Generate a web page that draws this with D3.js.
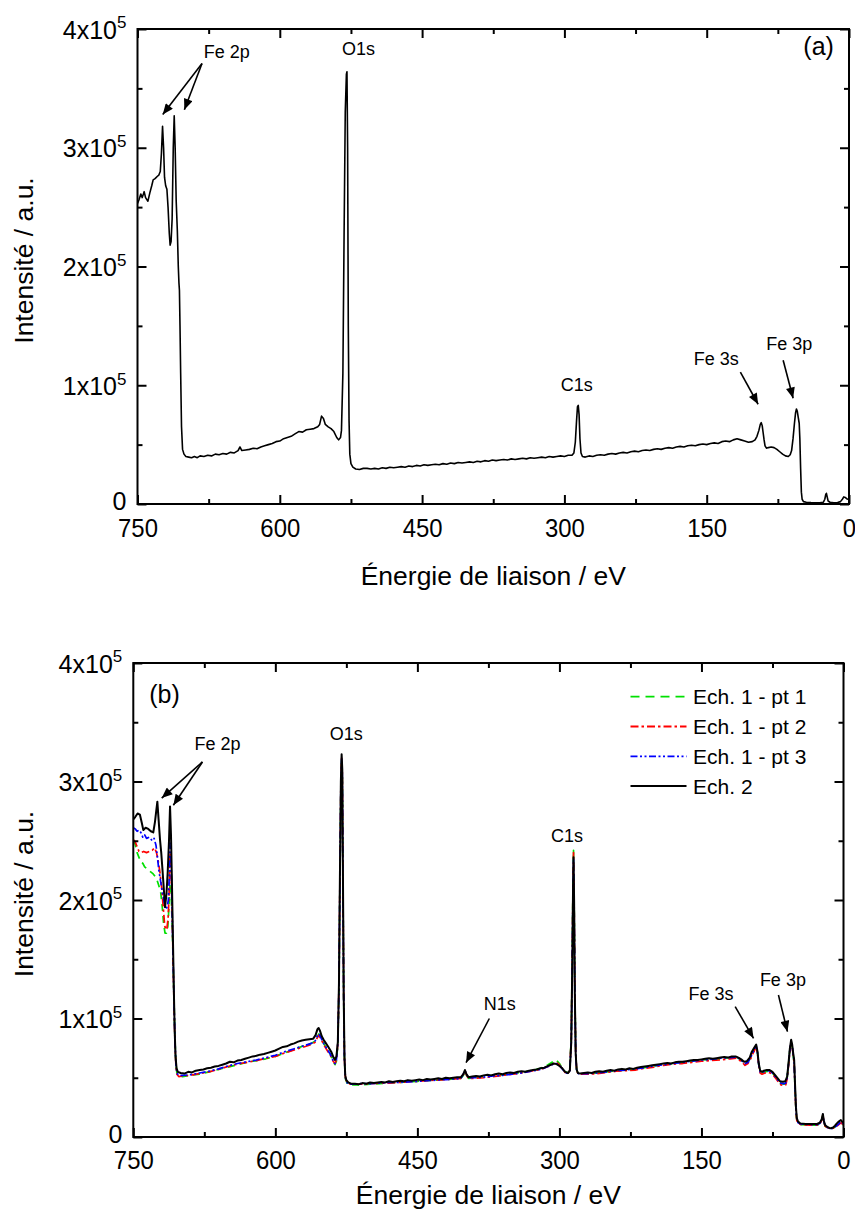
<!DOCTYPE html>
<html><head><meta charset="utf-8">
<script src="https://cdn.jsdelivr.net/npm/d3@7"></script>
<style>
body{margin:0;background:#fff}
svg{display:block}
text{font-family:"Liberation Sans",Arial,sans-serif;fill:#000}
</style>
</head><body>
<svg id="c" width="855" height="1212"></svg>
<script>
// ---------- DATA (binding energy eV, intensity in 10^3 counts) ----------
const xMajor = [750, 600, 450, 300, 150, 0];
const xMinor = [675, 525, 375, 225, 75];
const xTickLabels = ["750", "600", "450", "300", "150", "0"];
const yMajor = [0, 100, 200, 300, 400];
const yMinor = [50, 150, 250, 350];
const yTickBase = ["0", "1x10", "2x10", "3x10", "4x10"];
const yTickExp = ["", "5", "5", "5", "5"];
const xTitle = "Énergie de liaison / eV";
const yTitle = "Intensité / a.u.";

const spectrumA = [[750,253],[748.5,256],[746.5,261],[745,258],[743,263],[741.5,258],[739,255],[737,262],[735,268],[733.5,273],[731.5,274],[729,276],[727.5,277],[726,280],[724.8,295],[723.6,318],[722.5,300],[721.5,275],[720.3,268],[719,265],[717.8,250],[716.5,228],[715.6,218],[714.6,221],[713.5,240],[712.3,300],[711.3,327],[710.3,300],[709.2,255],[708,230],[707,200],[706.3,186],[705.8,180],[705.2,150],[704.5,110],[703.6,65],[702.5,46],[701,42],[699,40],[696,39.5],[693,39],[690,40],[687,39],[684,40.5],[680,40],[676,41],[672,40.5],[668,42],[664,41.5],[660,42.5],[656,42],[652,43.5],[648,43],[644,45],[642,48],[640,45],[636,45.5],[632,46],[628,47],[624,46.5],[620,48],[616,49],[612,50],[608,51],[604,52.5],[600,53],[596,55],[592,56],[588,57],[584,59],[580,61],[576,60.5],[572,62.5],[568,63],[564,63.5],[560,65],[558,67],[556,74],[554,72],[552,67],[549,65],[546,63.5],[543,61],[540,56],[538,54],[536,56],[535,62],[533.5,110],[532.2,230],[531,330],[529.8,362],[529.2,364],[528.5,300],[527.8,150],[527,70],[526.2,42],[525,34],[523,31],[520,29.5],[516,29],[512,30],[508,30],[504,29.5],[500,30],[496,29.5],[492,30.5],[488,30],[484,31],[480,30.5],[476,31],[472,31.5],[468,31],[464,32],[460,31.5],[456,32.5],[452,32],[448,33],[444,32.5],[440,33],[436,33.5],[432,33],[428,34],[424,33.5],[420,34.5],[416,34],[412,35],[408,34.5],[404,35],[400,35.5],[396,35],[392,36],[388,35.5],[384,36.5],[380,36],[376,37],[372,36.5],[368,37],[364,37.5],[360,37],[356,38],[352,37.5],[348,38],[344,38.5],[340,38],[336,39],[332,38.5],[328,39],[324,39.5],[320,39],[316,40],[312,39.5],[308,40],[304,40.5],[300,40],[296,41],[292,41],[290,43],[288.5,52],[287.2,70],[286.2,82],[285.4,83],[284.5,75],[283.6,55],[282.5,43],[281,40],[278,39.5],[274,40.5],[270,40],[266,41],[262,41.5],[258,41],[254,42],[250,42.5],[246,42],[242,43],[238,43.5],[234,43],[230,44],[226,44.5],[222,44],[218,45],[214,45.5],[210,45],[206,46],[202,46.5],[198,46],[194,47],[190,47.5],[186,47],[182,48],[178,48.5],[174,48],[170,49],[166,49.5],[162,49],[158,50],[154,50.5],[150,50],[146,51],[142,51.5],[138,51],[134,52.5],[130,53],[126,52.5],[122,54],[118,55],[114,54],[110,53],[106,52],[102,52.5],[99,54],[97,57],[95,62],[93.5,67],[92.5,68.5],[91.5,66],[90.5,60],[89.5,54],[88.5,49],[87,47],[85,47.5],[82,48],[79,47.5],[76,46],[73,44],[70,42],[67,40.5],[64,40],[62,41.5],[60.5,45],[59,55],[57.5,68],[56.3,77],[55.4,80],[54.5,78],[53.5,73],[52.5,68],[51.8,55],[51,30],[50.2,10],[49.4,4],[48,2],[45,1.5],[40,1.2],[35,1],[30,1.2],[27,1.5],[25.5,4],[24.5,8],[23.8,9],[23,6],[22,2.5],[20,1.5],[16,1],[12,1.2],[9,2],[7,4],[5.5,6],[4,5.5],[2.5,4.5],[1,4],[0,4]];

const ech1pt1 = [[750,250],[748,247],[746,240],[744,236],[742,232],[740,231],[738,228],[735,226],[732,224],[729,222],[727,220],[725,217],[723,212],[721,206],[719.5,195],[718,180],[716.5,172],[715,172],[713.5,178],[712.3,195],[711.2,214],[710.2,210],[709,180],[708,150],[707,115],[706,82],[705,62],[704,54],[702,52],[698,51],[690,52],[680,53],[670,55],[660,57],[650,59],[640,61],[630,63],[620,64.5],[610,66],[600,68],[590,71],[580,74],[570,77],[562,79],[558,81],[555.5,85],[554,87],[552,84],[549,79],[546,75],[542,70],[539,64],[537,61],[535.5,64],[534,78],[532.8,125],[531.8,215],[530.8,295],[530,318],[529.3,305],[528.6,215],[527.8,115],[527,65],[526,49],[524,45],[520,44],[510,44],[500,44.5],[490,45],[480,45.5],[470,46],[460,46.5],[450,47],[440,47.5],[430,48],[420,48.5],[410,49],[404,49.5],[401.5,52],[399.8,55],[398.2,52],[396,49.5],[390,50],[380,51],[370,52],[360,52.5],[350,53.5],[340,54.5],[330,56],[320,58],[312,61],[306,64],[303.5,65],[300,62],[297,58],[294,55],[291,54],[289,57],[287.5,85],[286.5,150],[285.6,220],[285.1,242],[284.5,205],[283.7,125],[282.8,72],[281.8,57],[280,53],[270,53.5],[260,54],[250,55],[240,56],[230,56.5],[220,57],[210,58.5],[200,60],[190,61],[180,62],[170,63],[160,64],[150,65],[140,65.5],[130,66],[120,67],[113,67.5],[110,66],[107,64],[104,62],[101,63],[98,67],[96,71],[94,74],[92.2,77],[90.8,71],[89.5,61],[88,55],[86,54],[83,55],[80,55.5],[77,55],[74,53],[71,50],[68,46.5],[66,45],[63,44.5],[61,45],[59.5,50],[58.1,61],[56.6,74],[55.3,80],[54.2,76],[53,68],[52.1,62],[51.2,42],[50.2,22],[49.3,14],[48,11.5],[45,10.5],[35,10],[28,10],[25,11],[23,14],[21.8,18.5],[20.8,13],[19.4,9],[17,8],[14,7],[11,7.5],[8,9],[5,11],[2.8,12.5],[1,11],[0,10]];

const ech1pt2 = [[750,251],[748,249],[746,245],[744,241],[742,240],[739,241],[736,240],[733,241],[730,242],[727.5,244],[725.5,240],[723.5,232],[721.8,223],[720,210],[718.5,195],[717,180],[716,175],[714.5,176],[713.2,185],[712.2,205],[711.2,240],[710.2,230],[709,190],[708,150],[707,112],[706,80],[705,60],[704,53],[702,51],[698,51.5],[690,52],[680,53.5],[670,55],[660,57],[650,59.5],[640,61.5],[630,63],[620,64.5],[610,66.5],[600,68],[590,71],[580,73.5],[570,76],[562,78],[558,80],[555.5,84],[554,86],[552,83],[549,78],[546,74],[542,69],[539,64],[537,62],[535.5,65],[534,79],[532.8,128],[531.8,218],[530.8,298],[530,320],[529.3,308],[528.6,218],[527.8,118],[527,66],[526,50],[524,45.5],[520,44.5],[510,44.5],[500,45],[490,45.5],[480,45.5],[470,46],[460,46.5],[450,47],[440,47.5],[430,48],[420,48.5],[410,49],[404,49.5],[401.5,52.5],[399.8,56],[398.2,52.5],[396,49.5],[390,49.5],[380,50],[370,51],[360,52],[350,53],[340,54],[330,55.5],[320,57],[312,59.5],[306,62],[303.5,63],[300,61],[297,57.5],[294,54.5],[291,53.5],[289,56.5],[287.5,83],[286.5,147],[285.6,216],[285.1,240],[284.5,203],[283.7,123],[282.8,71],[281.8,56],[280,53],[270,53],[260,53.5],[250,54.5],[240,55.5],[230,56],[220,56.5],[210,58],[200,59],[190,60.5],[180,61.5],[170,62],[160,63],[150,64],[140,64.5],[130,65],[120,66],[113,66.5],[110,65],[107,63],[104,60.5],[101,62],[98,66],[96,70],[94,73],[92.2,76],[90.8,70],[89.5,60],[88,54],[86,53],[83,54],[80,54.5],[77,54],[74,52],[71,49],[68,45.5],[66,44],[63,43.5],[61,44],[59.5,49],[58.1,60],[56.6,73],[55.3,80],[54.2,76],[53,68],[52.1,62],[51.2,42],[50.2,22],[49.3,14],[48,11.5],[45,10.5],[35,10],[28,10],[25,11],[23,14],[21.8,18.5],[20.8,13],[19.4,9],[17,8],[14,7],[11,7.5],[8,8.5],[5,10.5],[2.8,12],[1,11],[0,10]];

const ech1pt3 = [[750,261],[748,260],[746,258],[744,259],[742,257],[740,253],[738,255],[736,252],[733,253],[730,250],[728,252],[726,246],[724.5,236],[723,225],[721,215],[719,205],[717,197],[715.5,192],[714,195],[713,200],[712,220],[711.2,248],[710.2,235],[709,192],[708,152],[707,115],[706,82],[705,61],[704,54],[702,52],[698,52],[690,52.5],[680,54],[670,55.5],[660,57.5],[650,60],[640,62],[630,63.5],[620,65],[610,67],[600,69],[590,72],[580,74.5],[570,77],[562,79],[558,81],[555.5,85.5],[554,87],[552,84],[549,79],[546,75],[542,70],[539,64.5],[537,62],[535.5,65],[534,79],[532.8,127],[531.8,216],[530.8,296],[530,319],[529.3,306],[528.6,217],[527.8,117],[527,66],[526,50],[524,45.5],[520,44.5],[510,45],[500,45],[490,45.5],[480,46],[470,46],[460,46.5],[450,47],[440,47.5],[430,48],[420,48.5],[410,49],[404,49.5],[401.5,53],[399.8,56.5],[398.2,53],[396,50],[390,50],[380,50.5],[370,51.5],[360,52],[350,53],[340,54],[330,55.5],[320,57],[312,59.5],[306,61.5],[303.5,62],[300,60.5],[297,57.5],[294,54.5],[291,53.5],[289,56],[287.5,80],[286.5,142],[285.6,210],[285.1,234],[284.5,198],[283.7,120],[282.8,70],[281.8,56],[280,53.5],[270,53.5],[260,54],[250,55],[240,56],[230,56.5],[220,57.5],[210,58.5],[200,60],[190,61],[180,62],[170,63],[160,64],[150,65],[140,65.5],[130,66.5],[120,67],[113,67.5],[110,66],[107,64],[104,62],[101,63],[98,67],[96,71],[94,74],[92.2,77],[90.8,71],[89.5,61],[88,55],[86,54.5],[83,55.5],[80,56],[77,55.5],[74,53],[71,50],[68,46.5],[66,45.5],[63,45],[61,45.5],[59.5,50],[58.1,61],[56.6,74],[55.3,81],[54.2,77],[53,69],[52.1,63],[51.2,43],[50.2,23],[49.3,15],[48,12],[45,11],[35,10.5],[28,10.5],[25,11.5],[23,14.5],[21.8,19],[20.8,13.5],[19.4,9.5],[17,8],[14,7],[11,7.5],[8,9],[5,11],[2.8,13],[1,12],[0,11]];

const ech2 = [[750,268],[748,270],[745.5,273],[743,272],[741,265],[739.4,259],[737,261],[734.2,260],[731.5,258],[728.9,257],[727.1,266],[725.8,275],[724.6,283],[723.3,268],[721.8,251],[720.5,240],[719.4,228],[718,212],[716.5,194],[715,205],[713.7,223],[712.3,250],[711.2,279],[710.2,255],[709.2,215],[708.2,170],[707.2,125],[706.3,90],[705.4,68],[704.3,58],[703,55],[700,54],[696,53.5],[692,55],[688,54.5],[684,56],[680,56.5],[676,57],[672,58],[668,58.5],[664,59.5],[660,60],[656,61],[652,62],[648,63.5],[644,63],[640,64.5],[636,65],[632,66],[628,67],[624,68],[620,68.5],[616,69.5],[612,70],[608,71],[604,72],[600,73],[596,74.5],[592,76],[588,76.5],[584,78],[580,79],[576,80.5],[572,81.5],[568,82],[564,82.5],[560,83],[557.5,86],[555.5,91],[554.3,92],[553,90],[551,85],[549,82],[546.5,79],[544,76],[541,72],[538.5,67],[537,65],[535.5,68],[534,80],[532.8,130],[531.8,220],[530.8,300],[530,323],[529.3,310],[528.6,220],[527.8,120],[527,68],[526.2,52],[525,48],[523,46],[520,45],[516,45],[512,44.5],[508,45.5],[504,45],[500,46],[496,45.5],[492,46],[488,46.5],[484,46],[480,47],[476,46.5],[472,47],[468,47.5],[464,47],[460,48],[456,47.5],[452,48],[448,48.5],[444,48],[440,49],[436,48.5],[432,49],[428,49.5],[424,49],[420,50],[416,49.5],[412,50],[408,50.5],[404,50.5],[401.5,53],[399.8,56.5],[398.2,53],[396,50.5],[392,51],[388,51.5],[384,51],[380,52],[376,52.5],[372,52],[368,53],[364,53.5],[360,53],[356,54],[352,54.5],[348,54],[344,55],[340,55.5],[336,55],[332,56],[328,56.5],[324,57],[320,58],[316,58.5],[312,60],[309,61],[306,62],[303,61.5],[300,60],[297,58],[294,55],[291,54],[289,56],[287.5,80],[286.5,140],[285.6,210],[285.1,236],[284.5,200],[283.7,120],[282.8,70],[281.8,57],[280.5,54],[278,53.5],[274,54],[270,54.5],[266,54],[262,55],[258,55.5],[254,55],[250,56],[246,56.5],[242,56],[238,57],[234,57.5],[230,57],[226,58],[222,57.5],[218,58.5],[214,59],[210,59.5],[206,60],[202,60.5],[198,61],[194,61.5],[190,62],[186,62.5],[182,62],[178,63],[174,63.5],[170,63.5],[166,64],[162,64.5],[158,65],[154,65],[150,65.5],[146,66],[142,66.5],[138,66],[134,66.5],[130,67],[126,67.5],[122,67],[118,68],[114,68],[111,67],[108,65.5],[105,63.5],[102,64],[99,67],[96.8,72],[94.5,75],[92.2,78],[90.8,72],[89.5,62],[88,56],[86.2,55],[84,56],[81,56.5],[78,56.5],[75,55],[72,52],[69,49],[67,47],[64,46.7],[61.5,47],[59.5,51],[58.1,62],[56.6,75],[55.3,82],[54.2,78],[53,70],[52.1,65],[51.2,45],[50.2,25],[49.3,16],[48,13],[45.8,11.5],[40,11],[35,11],[28,11],[25,12],[23,15],[21.8,19.5],[20.8,14],[19.4,10],[17,8.5],[14.1,7.3],[11,8],[9,9.5],[7,11.5],[5,13],[2.8,14.3],[1.5,13],[0,12]];

const legendNames = ["Ech. 1 - pt 1", "Ech. 1 - pt 2", "Ech. 1 - pt 3", "Ech. 2"];
const legendColors = ["#00e000", "#ff0000", "#0000ff", "#000000"];

// annotations: text, text anchor point [E, I], optional arrows [[E0,I0],[E1,I1]]
const annotA = [
  {t:"Fe 2p", at:[656,376], arrows:[[[682,371],[723.4,328]],[[682,371],[700.6,332]]]},
  {t:"O1s", at:[517,378], arrows:[]},
  {t:"C1s", at:[287,95], arrows:[]},
  {t:"Fe 3s", at:[140,117], arrows:[[[114.5,111],[95.8,84]]]},
  {t:"Fe 3p", at:[63,130], arrows:[[[69.4,121],[58.9,89]]]}
];
const annotB = [
  {t:"Fe 2p", at:[661,327], arrows:[[[677,316.5],[720,286]],[[677,316.5],[707.7,280]]]},
  {t:"O1s", at:[525,335], arrows:[]},
  {t:"N1s", at:[363,107], arrows:[[[374,100],[398.6,62.7]]]},
  {t:"C1s", at:[292,249], arrows:[]},
  {t:"Fe 3s", at:[140,115.6], arrows:[[[114.4,110],[95,83.3]]]},
  {t:"Fe 3p", at:[64,127.4], arrows:[[[68.7,119.8],[59.2,88.9]]]}
];

// ---------- DRAWING ----------
const svg = d3.select("#c");
svg.append("rect").attr("width",855).attr("height",1212).attr("fill","#fff");
const defs = svg.append("defs");
defs.append("marker").attr("id","arr").attr("viewBox","0 0 12 10")
  .attr("refX",12).attr("refY",5).attr("markerWidth",12).attr("markerHeight",9)
  .attr("markerUnits","userSpaceOnUse").attr("orient","auto")
  .append("path").attr("d","M0,0L12,5L0,10Z").attr("fill","#000");

function panel(p){
  const x = d3.scaleLinear().domain([750,0]).range([p.left,p.right]);
  const y = d3.scaleLinear().domain([0,400]).range([p.bottom,p.top]);
  const g = svg.append("g");
  const clipId = "clip"+p.id;
  defs.append("clipPath").attr("id",clipId).append("rect")
    .attr("x",p.left).attr("y",p.top).attr("width",p.right-p.left).attr("height",p.bottom-p.top);
  const line = d3.line().x(d=>x(d[0])).y(d=>y(d[1]));
  const lg = g.append("g").attr("clip-path","url(#"+clipId+")");
  p.series.forEach(s=>{
    lg.append("path").datum(s.data).attr("d",line).attr("fill","none")
      .attr("stroke",s.color).attr("stroke-width",s.width)
      .attr("stroke-dasharray",s.dash||null).attr("stroke-linejoin","round");
  });
  const mk = (axis, tr, vals, size, fmt) => {
    const a = g.append("g").attr("transform",tr)
      .call(axis.tickValues(vals).tickSize(-size).tickSizeOuter(0).tickFormat(fmt||(()=>"")));
    a.select(".domain").remove();
    a.selectAll("line").attr("stroke","#000").attr("stroke-width",2);
    return a;
  };
  const xb = mk(d3.axisBottom(x), `translate(0,${p.bottom})`, xMajor, 9, (d,i)=>xTickLabels[i]);
  xb.selectAll("text").attr("font-size",26).attr("y",p.xLabelGap).attr("dy","0.72em")
    .attr("transform","scale(0.92,1)")
    .attr("font-family",'"Liberation Sans",Arial,sans-serif').attr("fill","#000");
  mk(d3.axisBottom(x), `translate(0,${p.bottom})`, xMinor, 5);
  mk(d3.axisTop(x), `translate(0,${p.top})`, xMajor, 9);
  mk(d3.axisTop(x), `translate(0,${p.top})`, xMinor, 5);
  const yl = mk(d3.axisLeft(y), `translate(${p.left},0)`, yMajor, 9, ()=> "");
  yl.selectAll(".tick").each(function(d,i){
    const t = d3.select(this).select("text").attr("x",-11).attr("dy",i===0?"0.2em":"0.36em")
      .attr("font-size",25).attr("text-anchor","end")
      .attr("font-family",'"Liberation Sans",Arial,sans-serif').attr("fill","#000");
    t.text(null);
    t.append("tspan").text(yTickBase[i]);
    if (yTickExp[i]) t.append("tspan").attr("font-size",17).attr("dy","-0.6em").text(yTickExp[i]);
  });
  mk(d3.axisLeft(y), `translate(${p.left},0)`, yMinor, 5);
  mk(d3.axisRight(y), `translate(${p.right},0)`, yMajor, 9);
  mk(d3.axisRight(y), `translate(${p.right},0)`, yMinor, 5);
  g.append("rect").attr("x",p.left).attr("y",p.top).attr("width",p.right-p.left)
    .attr("height",p.bottom-p.top).attr("fill","none").attr("stroke","#000").attr("stroke-width",2);
  g.append("text").attr("x",(p.left+p.right)/2).attr("y",p.bottom+p.titleGap)
    .attr("text-anchor","middle").attr("font-size",26.5).text(xTitle);
  g.append("text").attr("transform",`translate(33,${(p.top+p.bottom)/2-6}) rotate(-90)`)
    .attr("text-anchor","middle").attr("font-size",26.5).text(yTitle);
  p.annot.forEach(a=>{
    g.append("text").attr("x",x(a.at[0])).attr("y",y(a.at[1])).attr("text-anchor","middle")
      .attr("font-size",18).text(a.t);
    a.arrows.forEach(ar=>{
      g.append("line").attr("x1",x(ar[0][0])).attr("y1",y(ar[0][1]))
        .attr("x2",x(ar[1][0])).attr("y2",y(ar[1][1]))
        .attr("stroke","#000").attr("stroke-width",1.6).attr("marker-end","url(#arr)");
    });
  });
  g.append("text").attr("x",x(p.tag.at[0])).attr("y",y(p.tag.at[1])).attr("text-anchor","middle")
    .attr("font-size",25).text(p.tag.t);
  return {x,y,g};
}

panel({id:"a", left:137.5, right:849, top:29, bottom:504, xLabelGap:14, titleGap:81,
  series:[{data:spectrumA,color:"#000",width:1.6}],
  annot:annotA, tag:{t:"(a)", at:[32,378]}});

const pb = panel({id:"b", left:133.3, right:843.5, top:663, bottom:1137, xLabelGap:13, titleGap:67,
  series:[
    {data:ech1pt1,color:legendColors[0],width:1.7,dash:"7,5"},
    {data:ech1pt2,color:legendColors[1],width:1.7,dash:"8,3,2.5,3"},
    {data:ech1pt3,color:legendColors[2],width:1.7,dash:"7,2.5,2,2.5,2,2.5"},
    {data:ech2,color:legendColors[3],width:2}],
  annot:annotB, tag:{t:"(b)", at:[717,366]}});

// legend
const legDash = ["9,6","8,3,2.5,3","7,2.5,2,2.5,2,2.5",null];
const leg = pb.g.append("g").attr("transform",`translate(${843.5-213},${696.7})`);
legendNames.forEach((n,i)=>{
  const r = leg.append("g").attr("transform",`translate(0,${i*29.8})`);
  r.append("line").attr("x1",0).attr("x2",56).attr("y1",0).attr("y2",0)
    .attr("stroke",legendColors[i]).attr("stroke-width",i===3?2:1.8).attr("stroke-dasharray",legDash[i]);
  r.append("text").attr("x",62.6).attr("y",0).attr("dy","0.36em").attr("font-size",21).text(n);
});
</script>
</body></html>
